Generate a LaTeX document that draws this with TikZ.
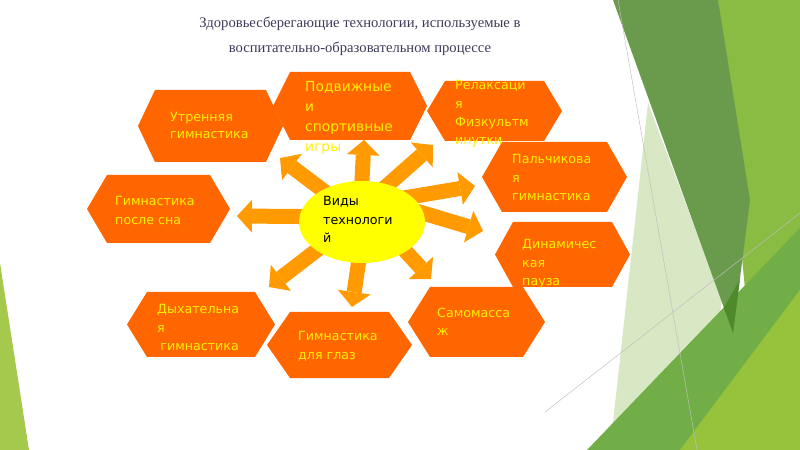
\documentclass[tikz,border=0pt]{standalone}
\usepackage{fontspec}
\usepackage{tikz}
\usetikzlibrary{arrows.meta}
\usetikzlibrary{shapes.geometric}
\usetikzlibrary{backgrounds}
\newfontfamily\labelfont{DejaVu Sans}
\newfontfamily\titlefont{Liberation Serif}
\definecolor{hexorange}{HTML}{FF6600}
\definecolor{hexyellow}{HTML}{FFF000}
\definecolor{sunyellow}{HTML}{FFFF00}
\definecolor{rayorange}{HTML}{FF9A00}
\definecolor{titlegray}{HTML}{3C3C5A}
\definecolor{olive}{HTML}{6A9A4C}
\definecolor{darkolive}{HTML}{4E8A2C}
\definecolor{stripgreen}{HTML}{8ABB42}
\definecolor{palegreen}{HTML}{D9E8C4}
\definecolor{midgreen}{HTML}{72AE47}
\definecolor{limegreen}{HTML}{96C33B}
\definecolor{leftgreen}{HTML}{A5C94C}
\tikzset{hexfill/.style={fill=hexorange},
 lbl/.style={text=hexyellow, font=\labelfont\fontsize{10.8}{15.5}\selectfont, align=left, anchor=north west, inner sep=0pt},
 ray/.style={draw=rayorange, line width=4.5mm, -{Triangle[length=4.5mm,width=9.9mm,line width=0pt]}, shorten <=-2.4mm}}
% hexagon: x1, x2, top, bottom, inset
\newcommand{\hexshape}[5]{\fill[hexfill] (#1,{(#3+#4)/2}) -- ({#1+#5},#3) -- ({#2-#5},#3) -- (#2,{(#3+#4)/2}) -- ({#2-#5},#4) -- ({#1+#5},#4) -- cycle;}

\begin{document}
\begin{tikzpicture}[x=0.3mm, y=-0.3mm]
\useasboundingbox (0,0) rectangle (800,450);
 % green background
 \fill[stripgreen] (718,0) -- (800,0) -- (800,450) -- (760,450) -- cycle;
 \fill[palegreen] (648,103) -- (722,300) -- (700,450) -- (610,450) -- cycle;
 \fill[midgreen] (587,450) -- (800,228) -- (800,450) -- cycle;
 \fill[limegreen] (680,450) -- (800,290) -- (800,450) -- cycle;
 \fill[olive] (613,0) -- (718,0) -- (750,200) -- (733,333) -- cycle;
 \fill[darkolive] (723.8,307.5) -- (739.8,280) -- (733,333) -- cycle;
 \draw[black!25, thin] (618,0) -- (697,450);
 \draw[black!25, thin] (545,412) -- (800,213);
 \fill[leftgreen] (0,263) -- (0,450) -- (29,450) -- cycle;

 \node[text=titlegray, font=\titlefont\fontsize{12.5}{21.3}\selectfont, align=center] (title) at (360,36.5)
  {Здоровьесберегающие технологии, используемые в\\воспитательно-образовательном процессе};

 \hexshape{138}{283}{90}{162}{17}
 \hexshape{273}{427}{72}{140}{17}
 \hexshape{427}{562}{81}{141}{18}
 \hexshape{482}{627}{142}{212}{20}
 \hexshape{495}{630}{222}{287}{18}
 \hexshape{408}{545}{287}{357}{22}
 \hexshape{267}{412}{312}{378}{23}
 \hexshape{127}{275}{292}{357}{20}
 \hexshape{87}{230}{175}{243}{20}

 \node[lbl, font=\labelfont\fontsize{10.8}{14.5}\selectfont] (utr) at (170,112.5) {Утренняя\\гимнастика};
 \node[lbl, font=\labelfont\fontsize{11.8}{17}\selectfont] (podv) at (305,81) {Подвижные\\и\\спортивные\\игры};
 \node[lbl] (relax) at (455,80.5) {Релаксаци\\я\\Физкультм\\инутки};
 \node[lbl] (palch) at (512,154.5) {Пальчикова\\я\\гимнастика};
 \node[lbl] (dinam) at (522,239.5) {Динамичес\\кая\\пауза};
 \node[lbl] (samo) at (437,307.5) {Самомасса\\ж};
 \node[lbl] (glaz) at (298,331.5) {Гимнастика\\для глаз};
 \node[lbl] (dyh) at (157,304.5) {Дыхательна\\я\\\hspace{0.25em}гимнастика};
 \node[lbl] (son) at (115,196.5) {Гимнастика\\после сна};

 \node[ellipse, fill=sunyellow, minimum width=37.8mm, minimum height=24.6mm, inner sep=0pt] (c) at (362,222) {};
 \node[lbl, text=black] (vidy) at (323,196.5) {Виды\\технологи\\й};

 \coordinate (t1) at (280,158);
 \coordinate (t2) at (364,140);
 \coordinate (t3) at (433,145);
 \coordinate (t4) at (475,186);
 \coordinate (t5) at (483,231);
 \coordinate (t6) at (431,279);
 \coordinate (t7) at (352,307);
 \coordinate (t8) at (269,287);
 \coordinate (t9) at (237,216);
 \begin{scope}[on background layer]
  \draw[ray] (c.141) -- (t1);
  \draw[ray] (c.90) -- (t2);
  \draw[ray] (c.55) -- (t3);
  \draw[ray] (c.27) -- (t4);
  \draw[ray] (c.8) -- (t5);
  \draw[ray] (c.-34) -- (t6);
  \draw[ray] (c.-95) -- (t7);
  \draw[ray] (c.-148) -- (t8);
  \draw[ray] (c.175) -- (t9);
 \end{scope}
\end{tikzpicture}
\end{document}
